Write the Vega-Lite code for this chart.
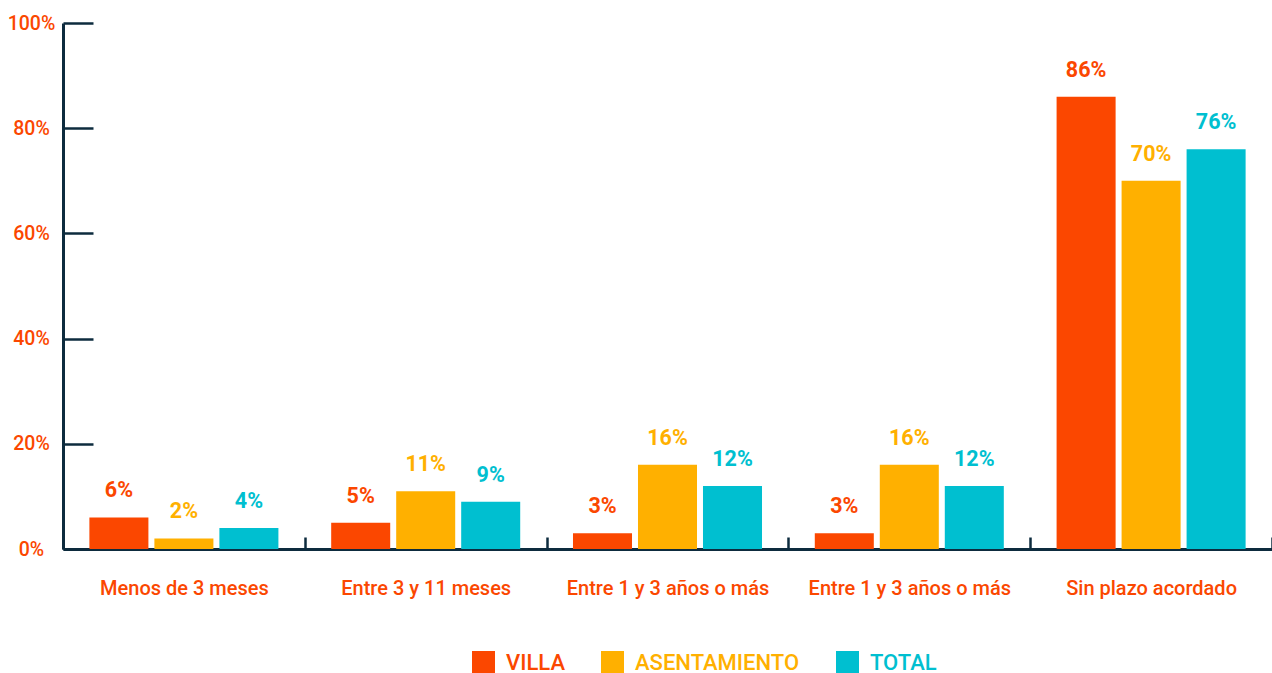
{
  "$schema": "https://vega.github.io/schema/vega-lite/v6.json",
  "width": 1209,
  "height": 526,
  "autosize": {"type": "none"},
  "padding": {"left": 63, "top": 23, "right": 0, "bottom": 124},
  "background": "white",
  "config": {"view": {"stroke": null}, "font": "Roboto"},
  "data": {
    "values": [
      {"grupo": 1, "categoria": "Menos de 3 meses", "serie": "VILLA", "valor": 6, "etiqueta": "6%"},
      {"grupo": 1, "categoria": "Menos de 3 meses", "serie": "ASENTAMIENTO", "valor": 2, "etiqueta": "2%"},
      {"grupo": 1, "categoria": "Menos de 3 meses", "serie": "TOTAL", "valor": 4, "etiqueta": "4%"},
      {"grupo": 2, "categoria": "Entre 3 y 11 meses", "serie": "VILLA", "valor": 5, "etiqueta": "5%"},
      {"grupo": 2, "categoria": "Entre 3 y 11 meses", "serie": "ASENTAMIENTO", "valor": 11, "etiqueta": "11%"},
      {"grupo": 2, "categoria": "Entre 3 y 11 meses", "serie": "TOTAL", "valor": 9, "etiqueta": "9%"},
      {"grupo": 3, "categoria": "Entre 1 y 3 años o más", "serie": "VILLA", "valor": 3, "etiqueta": "3%"},
      {"grupo": 3, "categoria": "Entre 1 y 3 años o más", "serie": "ASENTAMIENTO", "valor": 16, "etiqueta": "16%"},
      {"grupo": 3, "categoria": "Entre 1 y 3 años o más", "serie": "TOTAL", "valor": 12, "etiqueta": "12%"},
      {"grupo": 4, "categoria": "Entre 1 y 3 años o más", "serie": "VILLA", "valor": 3, "etiqueta": "3%"},
      {"grupo": 4, "categoria": "Entre 1 y 3 años o más", "serie": "ASENTAMIENTO", "valor": 16, "etiqueta": "16%"},
      {"grupo": 4, "categoria": "Entre 1 y 3 años o más", "serie": "TOTAL", "valor": 12, "etiqueta": "12%"},
      {"grupo": 5, "categoria": "Sin plazo acordado", "serie": "VILLA", "valor": 86, "etiqueta": "86%"},
      {"grupo": 5, "categoria": "Sin plazo acordado", "serie": "ASENTAMIENTO", "valor": 70, "etiqueta": "70%"},
      {"grupo": 5, "categoria": "Sin plazo acordado", "serie": "TOTAL", "valor": 76, "etiqueta": "76%"}
    ]
  },
  "encoding": {
    "x": {
      "field": "grupo",
      "type": "ordinal",
      "scale": {"paddingInner": 0, "paddingOuter": 0},
      "axis": {
        "title": null,
        "labelAngle": 0,
        "labelLimit": 0,
        "labelExpr": "['Menos de 3 meses','Entre 3 y 11 meses','Entre 1 y 3 años o más','Entre 1 y 3 años o más','Sin plazo acordado'][datum.value - 1]",
        "tickBand": "extent",
        "tickSize": -12,
        "tickWidth": 2.5,
        "tickColor": "#0d2b3e",
        "domainColor": "#0d2b3e",
        "domainWidth": 3,
        "labelColor": "#fb4700",
        "labelFontSize": 20,
        "labelFontWeight": 500,
        "labelPadding": 41,
        "labelBaseline": "top"
      }
    },
    "xOffset": {
      "field": "serie",
      "type": "nominal",
      "sort": ["VILLA", "ASENTAMIENTO", "TOTAL"],
      "scale": {"paddingInner": 0.092, "paddingOuter": 0.406}
    },
    "y": {
      "field": "valor",
      "type": "quantitative",
      "scale": {"domain": [0, 100], "nice": false},
      "axis": {
        "title": null,
        "grid": false,
        "values": [0, 20, 40, 60, 80, 100],
        "labelExpr": "datum.value + '%'",
        "tickSize": -30,
        "tickWidth": 2.5,
        "tickColor": "#0d2b3e",
        "domainColor": "#0d2b3e",
        "domainWidth": 3,
        "labelColor": "#fb4700",
        "labelFontSize": 19.5,
        "labelFontWeight": 500,
        "labelAlign": "center",
        "labelPadding": 62
      }
    },
    "color": {
      "field": "serie",
      "type": "nominal",
      "sort": ["VILLA", "ASENTAMIENTO", "TOTAL"],
      "scale": {"domain": ["VILLA", "ASENTAMIENTO", "TOTAL"], "range": ["#fb4700", "#ffb000", "#00bfd0"]},
      "legend": {
        "title": null,
        "orient": "none",
        "legendX": 409,
        "legendY": 628,
        "direction": "horizontal",
        "symbolType": "square",
        "symbolSize": 529,
        "symbolStrokeWidth": 0,
        "labelFontSize": 22,
        "labelFontWeight": 500,
        "labelLimit": 0,
        "labelOffset": 11,
        "columnPadding": 36,
        "encode": {"labels": {"update": {"fill": {"signal": "scale('color', datum.value)"}}}}
      }
    }
  },
  "layer": [
    {"mark": {"type": "bar"}},
    {
      "mark": {"type": "text", "baseline": "bottom", "dy": -15, "fontSize": 21.5, "fontWeight": "bold"},
      "encoding": {"text": {"field": "etiqueta", "type": "nominal"}}
    }
  ]
}
